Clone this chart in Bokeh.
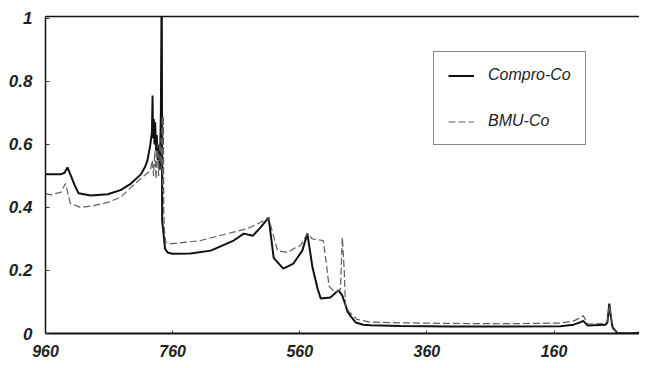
from bokeh.plotting import figure
from bokeh.models import (Range1d, FixedTicker, LinearAxis, Legend, LegendItem,
                          CustomJSTickFormatter)
from bokeh.embed import file_html
from bokeh.resources import INLINE

# ---- data ----
x_ticks = [960, 760, 560, 360, 160]
y_ticks = [0, 0.2, 0.4, 0.6, 0.8, 1]

compro_x = [960, 936, 930, 925.4, 920, 914, 908, 889, 862, 842, 826, 810, 803, 799.5,
            795, 792.5, 791.6, 790.8, 789.5, 788.5, 787.5, 786, 785, 783.5, 782, 780,
            778.5, 777.5, 777, 776.5, 775, 772, 768, 760, 732, 700, 664, 648, 634, 622,
            609, 601, 586, 570, 556, 548, 540, 532, 527, 512, 499, 493, 488, 485, 480,
            472, 460, 449, 402, 323, 244, 150, 129, 118, 114, 107, 79, 76, 73, 71, 68,
            60, 40, 25]
compro_y = [0.505, 0.505, 0.51, 0.527, 0.50, 0.47, 0.445, 0.438, 0.442, 0.455, 0.475,
            0.505, 0.53, 0.55, 0.60, 0.64, 0.755, 0.62, 0.68, 0.60, 0.67, 0.58, 0.63,
            0.55, 0.60, 0.52, 0.70, 1.02, 1.02, 0.36, 0.33, 0.27, 0.257, 0.253, 0.254,
            0.263, 0.295, 0.317, 0.31, 0.336, 0.368, 0.24, 0.206, 0.222, 0.263, 0.317,
            0.21, 0.143, 0.111, 0.114, 0.137, 0.12, 0.09, 0.07, 0.055, 0.035, 0.028,
            0.026, 0.024, 0.022, 0.022, 0.023, 0.028, 0.036, 0.04, 0.025, 0.028, 0.035,
            0.095, 0.06, 0.02, 0.0, 0.0, 0.003]

bmu_x = [960, 952, 936, 928.5, 921, 905, 884, 862, 842, 826, 810, 795, 792, 790, 788,
         786, 784, 782, 780, 778, 776.5, 775.5, 774.5, 774, 773, 771, 768, 760, 716, 674,
         642, 622, 609, 600, 595, 579, 569, 559, 548, 540, 523, 518, 514, 504, 496, 493,
         490, 488, 483, 470, 449, 402, 323, 244, 150, 129, 118, 114, 107, 79, 76, 73, 70,
         68, 60, 25]
bmu_y = [0.444, 0.44, 0.448, 0.476, 0.413, 0.40, 0.406, 0.416, 0.432, 0.463, 0.492,
         0.517, 0.55, 0.50, 0.58, 0.49, 0.60, 0.50, 0.62, 0.52, 0.69, 0.45, 0.69, 0.40,
         0.33, 0.29, 0.286, 0.285, 0.295, 0.317, 0.333, 0.352, 0.368, 0.30, 0.263, 0.257,
         0.27, 0.279, 0.317, 0.30, 0.295, 0.22, 0.15, 0.13, 0.14, 0.305, 0.20, 0.09, 0.07,
         0.045, 0.036, 0.034, 0.032, 0.031, 0.033, 0.04, 0.05, 0.057, 0.03, 0.032, 0.04,
         0.09, 0.05, 0.015, 0.003, 0.0]

series_labels = ["Compro-Co", "BMU-Co"]

FONT = "Liberation Sans"

p = figure(width=639, height=362, x_range=Range1d(960, 25.5), y_range=Range1d(0, 1.006),
           output_backend="svg", toolbar_location=None,
           min_border_left=45, min_border_right=0, min_border_top=16, min_border_bottom=29)
p.grid.visible = False
p.outline_line_color = None
p.background_fill_color = "white"
p.border_fill_color = "white"

r1 = p.line(compro_x, compro_y, line_color="#111111", line_width=2.0)
r2 = p.line(bmu_x, bmu_y, line_color="#5e5e5e", line_width=1.2, line_dash="7 3")

# axes
xa = p.xaxis[0]
xa.ticker = FixedTicker(ticks=x_ticks)
xa.axis_line_width = 2
xa.axis_line_color = "#111111"
xa.major_tick_in = 3
xa.major_tick_out = 0
xa.minor_tick_line_color = None
xa.major_tick_line_color = "#333333"
xa.major_label_standoff = 11
xa.major_label_text_font = FONT
xa.major_label_text_font_style = "bold italic"
xa.major_label_text_font_size = "16px"
xa.major_label_text_color = "#222222"

ya = p.yaxis[0]
ya.ticker = FixedTicker(ticks=y_ticks)
ya.formatter = CustomJSTickFormatter(code="return String(Math.round(tick*10)/10);")
ya.axis_line_width = 1.5
ya.axis_line_color = "#111111"
ya.major_tick_in = 4
ya.major_tick_out = 0
ya.minor_tick_line_color = None
ya.major_tick_line_color = "#333333"
ya.major_label_standoff = 13
ya.major_label_text_font = FONT
ya.major_label_text_font_style = "bold italic"
ya.major_label_text_font_size = "17px"
ya.major_label_text_color = "#222222"

top = LinearAxis(ticker=FixedTicker(ticks=[]), axis_line_width=1.5,
                 axis_line_color="#111111", major_tick_in=0, major_tick_out=0,
                 minor_tick_in=0, minor_tick_out=0, major_label_standoff=0)
p.add_layout(top, "above")

legend = Legend(items=[LegendItem(label=series_labels[0], renderers=[r1]),
                       LegendItem(label=series_labels[1], renderers=[r2])],
                location=(388, 188))
legend.border_line_color = "#111111"
legend.border_line_width = 1.5
legend.background_fill_color = "white"
legend.background_fill_alpha = 1.0
legend.padding = 14
legend.spacing = 28
legend.margin = 0
legend.glyph_width = 26
legend.glyph_height = 17
legend.label_height = 17
legend.label_standoff = 14
legend.label_text_font = FONT
legend.label_text_font_style = "italic"
legend.label_text_font_size = "16px"
legend.label_text_color = "#222222"
p.add_layout(legend)

open("out.html", "w").write(file_html(p, INLINE))
